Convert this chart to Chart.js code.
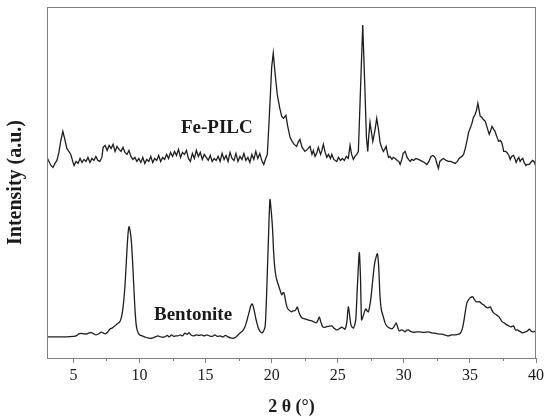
<!DOCTYPE html>
<html>
<head>
<meta charset="utf-8">
<script src="https://cdn.jsdelivr.net/npm/chart.js@4"></script>
<style>
  html, body { margin: 0; padding: 0; background: #fff; }
  #wrap { width: 550px; height: 419px; }
</style>
</head>
<body>
<div id="wrap"><canvas id="xrd"></canvas></div>
<script>
// XRD patterns (2θ in degrees, intensity in arbitrary units)
const fePilcTheta = [
  3.0, 3.15, 3.3, 3.45, 3.6, 3.75, 3.9, 4.05, 4.2, 4.35, 4.5, 4.65, 4.8, 4.95, 5.05, 5.2, 5.35, 5.5, 5.65, 5.8,
  5.95, 6.1, 6.25, 6.4, 6.55, 6.7, 6.85, 7.0, 7.15, 7.25, 7.4, 7.55, 7.7, 7.85, 8.0, 8.15, 8.3, 8.45, 8.6, 8.75,
  8.9, 9.05, 9.2, 9.35, 9.5, 9.65, 9.8, 9.95, 10.1, 10.25, 10.4, 10.55, 10.7, 10.85, 11.0, 11.15, 11.3, 11.45, 11.6, 11.75,
  11.9, 12.05, 12.2, 12.35, 12.5, 12.65, 12.8, 12.95, 13.1, 13.25, 13.4, 13.55, 13.7, 13.85, 14.0, 14.15, 14.3, 14.45, 14.6, 14.75,
  14.9, 15.05, 15.2, 15.35, 15.5, 15.65, 15.8, 15.95, 16.1, 16.25, 16.4, 16.55, 16.7, 16.85, 17.0, 17.15, 17.3, 17.45, 17.6, 17.75,
  17.9, 18.05, 18.2, 18.35, 18.5, 18.65, 18.8, 18.95, 19.1, 19.25, 19.4, 19.55, 19.67, 19.8, 19.9, 20.0, 20.12, 20.25, 20.42, 20.6,
  20.76, 20.9, 21.08, 21.2, 21.39, 21.55, 21.7, 21.89, 22.0, 22.14, 22.3, 22.52, 22.7, 22.9, 23.05, 23.15, 23.28, 23.4, 23.53, 23.7,
  23.8, 23.91, 24.05, 24.17, 24.3, 24.45, 24.55, 24.7, 24.92, 25.05, 25.2, 25.35, 25.5, 25.65, 25.8, 25.93, 26.05, 26.18, 26.3, 26.44,
  26.56, 26.7, 26.89, 27.05, 27.17, 27.27, 27.35, 27.44, 27.55, 27.65, 27.8, 27.95, 28.08, 28.2, 28.32, 28.45, 28.55, 28.66, 28.75, 28.84,
  28.95, 29.1, 29.2, 29.34, 29.5, 29.62, 29.72, 29.85, 29.95, 30.1, 30.25, 30.35, 30.48, 30.6, 30.75, 30.9, 31.1, 31.25, 31.4, 31.55,
  31.74, 31.9, 32.05, 32.2, 32.3, 32.4, 32.5, 32.62, 32.72, 32.88, 33.0, 33.2, 33.38, 33.55, 33.7, 33.89, 34.05, 34.18, 34.27, 34.4,
  34.52, 34.65, 34.8, 34.9, 35.05, 35.15, 35.27, 35.4, 35.5, 35.6, 35.7, 35.78, 35.9, 36.0, 36.16, 36.3, 36.46, 36.55, 36.67, 36.8,
  36.9, 37.0, 37.17, 37.3, 37.4, 37.5, 37.55, 37.7, 37.8, 37.95, 38.05, 38.15, 38.3, 38.4, 38.5, 38.6, 38.7, 38.8, 38.9, 39.0,
  39.1, 39.24, 39.35, 39.5, 39.6, 39.75, 39.85, 40.0
];
const fePilcIntensity = [
  200, 196, 192, 190, 194, 197, 205, 217, 226, 218, 209, 206, 203, 196, 192, 196, 194, 199, 195, 198,
  196, 200, 195, 199, 197, 201, 197, 196, 200, 210, 212, 207, 212, 209, 213, 206, 211, 208, 206, 210,
  205, 203, 207, 201, 198, 200, 196, 199, 195, 200, 194, 198, 196, 201, 195, 199, 197, 202, 196, 200,
  198, 203, 199, 205, 201, 206, 202, 208, 200, 205, 203, 207, 199, 196, 204, 199, 207, 201, 205, 198,
  203, 200, 197, 202, 196, 199, 197, 201, 196, 204, 198, 202, 196, 205, 199, 197, 204, 196, 201, 198,
  204, 197, 200, 195, 203, 198, 206, 199, 204, 197, 193, 199, 203, 235, 262, 290, 304, 285, 263, 250,
  241, 239, 242, 232, 220, 216, 213, 211, 215, 218, 210, 206, 208, 211, 203, 207, 201, 204, 210, 203,
  207, 213, 205, 200, 203, 199, 203, 198, 196, 200, 197, 199, 197, 201, 199, 212, 203, 198, 201, 203,
  206, 260, 332, 270, 220, 206, 222, 235, 225, 216, 226, 239, 228, 215, 210, 206, 208, 211, 205, 200,
  201, 198, 200, 199, 197, 196, 193, 198, 204, 206, 200, 198, 196, 198, 197, 199, 198, 197, 196, 195,
  193, 196, 201, 202, 201, 199, 194, 189, 196, 198, 199, 197, 196, 196, 195, 194, 196, 199, 200, 201,
  203, 209, 218, 225, 230, 234, 240, 243, 247, 254, 247, 241, 240, 238, 236, 230, 223, 226, 231, 228,
  226, 222, 216, 217, 215, 210, 206, 206, 205, 202, 198, 201, 202, 199, 195, 198, 200, 196, 198, 199,
  195, 192, 193, 193, 195, 197, 196, 191
];

const bentoniteTheta = [
  3.0, 3.5, 4.0, 4.5, 5.0, 5.2, 5.4, 5.6, 5.8, 6.0, 6.2, 6.36, 6.55, 6.7, 6.9, 7.12, 7.25, 7.4, 7.6, 7.75,
  7.95, 8.13, 8.3, 8.5, 8.62, 8.76, 8.9, 9.01, 9.12, 9.21, 9.3, 9.39, 9.5, 9.59, 9.68, 9.77, 9.9, 10.02, 10.2, 10.4,
  10.6, 10.9, 11.1, 11.4, 11.6, 11.9, 12.1, 12.25, 12.42, 12.6, 12.75, 12.9, 13.1, 13.25, 13.43, 13.6, 13.75, 13.9, 14.1, 14.3,
  14.5, 14.7, 14.9, 15.1, 15.3, 15.5, 15.7, 15.9, 16.1, 16.3, 16.5, 16.7, 16.9, 17.1, 17.3, 17.45, 17.6, 17.8, 17.97, 18.1,
  18.2, 18.3, 18.42, 18.53, 18.65, 18.79, 18.9, 18.99, 19.1, 19.24, 19.35, 19.5, 19.58, 19.67, 19.77, 19.87, 19.97, 20.07, 20.15, 20.25,
  20.35, 20.5, 20.65, 20.76, 20.85, 20.93, 21.05, 21.18, 21.3, 21.5, 21.6, 21.7, 21.82, 21.94, 22.03, 22.14, 22.3, 22.52, 22.75, 23.03,
  23.2, 23.36, 23.48, 23.6, 23.72, 23.86, 24.0, 24.1, 24.3, 24.55, 24.7, 24.9, 25.05, 25.2, 25.3, 25.45, 25.55, 25.68, 25.8, 25.92,
  26.0, 26.1, 26.2, 26.36, 26.48, 26.63, 26.72, 26.8, 26.9, 27.02, 27.12, 27.22, 27.32, 27.42, 27.52, 27.65, 27.8, 28.0, 28.1, 28.2,
  28.3, 28.45, 28.58, 28.7, 28.9, 29.1, 29.25, 29.42, 29.55, 29.65, 29.85, 30.0, 30.1, 30.2, 30.35, 30.5, 30.7, 31.0, 31.2, 31.5,
  31.85, 32.1, 32.37, 32.6, 32.88, 33.1, 33.38, 33.6, 33.9, 34.1, 34.27, 34.4, 34.52, 34.65, 34.77, 34.9, 35.02, 35.22, 35.35, 35.47,
  35.6, 35.75, 35.9, 36.03, 36.2, 36.35, 36.55, 36.65, 36.79, 37.0, 37.2, 37.3, 37.45, 37.6, 37.8, 37.95, 38.1, 38.3, 38.45, 38.6,
  38.7, 38.85, 38.95, 39.1, 39.2, 39.35, 39.5, 39.62, 39.75, 39.9, 40.0
];
const bentoniteIntensity = [
  21, 21, 21, 21, 21.5, 22, 24, 24.5, 24, 24, 25, 25.3, 24, 23, 24, 25.7, 25, 24, 26, 28.7,
  30, 32, 34, 36, 40, 51, 72, 98, 122, 131, 126, 115, 90, 65, 44, 31, 25, 23, 22, 21,
  20, 19.7, 20.5, 22, 21, 21, 22.5, 21, 23, 21.5, 22, 22, 23, 22, 24.7, 23.5, 25.3, 23, 22, 23,
  22.5, 23, 22, 23, 22, 21.5, 23, 21.5, 22, 21, 22.5, 21, 20, 19.7, 21, 23, 25, 27, 31, 36,
  41, 46, 52, 54, 49, 40, 34, 30, 27, 25, 26, 31, 50, 85, 125, 158, 146, 128, 105, 88,
  80, 73, 67, 63, 65, 65, 57, 50, 48, 46, 47, 47, 48, 51, 47, 43, 40, 39, 38, 37,
  36, 35, 37, 41, 36, 31, 30.5, 31, 31.5, 32, 30, 28, 28.7, 30, 30.7, 29.5, 28.7, 35, 51, 40,
  33, 30.5, 30, 38, 70, 105, 80, 38, 41, 46, 49, 47, 46, 52, 61, 78, 95, 104, 90, 61,
  48, 41, 35, 32, 30, 29, 31, 35, 30, 27, 28, 27, 26, 27.5, 28, 26.5, 25.7, 26, 26, 25.5,
  26, 25, 24.7, 24, 23.7, 23, 22, 23, 23, 23.5, 24.7, 28, 35, 46, 55, 58, 60, 61, 58, 56,
  56, 56, 54, 53, 51, 50, 51, 48, 45, 43, 41, 39, 36, 35, 33, 32, 31, 32, 28, 28,
  27, 26, 25, 25.5, 26, 27, 28.7, 27, 26, 26.5, 27
];

// series names and where they are written on the plot
const seriesNames = ['Fe-PILC', 'Bentonite'];
const nameTheta = [15.85, 14.05];
const nameIntensity = [229, 43];

// axis ticks
const xMajorTicks = [5, 10, 15, 20, 25, 30, 35, 40];
const xMinorTicks = [7.5, 12.5, 17.5, 22.5, 27.5, 32.5, 37.5];

const SERIF = "'Liberation Serif', 'Times New Roman', serif";
const INK = '#1a1a1a';
const FRAME = '#808080';

const toPoints = (xs, ys) => xs.map((x, i) => ({ x, y: ys[i] }));

// frame box, minor ticks and the series names
const decorPlugin = {
    id: 'decor',
    afterDraw(chart) {
        const { ctx, chartArea: a, scales } = chart;
        ctx.save();
        ctx.strokeStyle = FRAME;
        ctx.lineWidth = 1;
        ctx.strokeRect(Math.round(a.left) + 0.5, Math.round(a.top) + 0.5,
            Math.round(a.right - a.left) - 1, Math.round(a.bottom - a.top));
        ctx.beginPath();
        xMinorTicks.forEach(v => {
            const px = Math.round(scales.x.getPixelForValue(v)) + 0.5;
            ctx.moveTo(px, a.bottom);
            ctx.lineTo(px, a.bottom + 3);
        });
        ctx.stroke();

        ctx.fillStyle = INK;
        ctx.font = `bold 19px ${SERIF}`;
        ctx.textAlign = 'center';
        ctx.textBaseline = 'middle';
        seriesNames.forEach((name, i) => {
            ctx.fillText(name, scales.x.getPixelForValue(nameTheta[i]), scales.y.getPixelForValue(nameIntensity[i]));
        });
        ctx.restore();
    }
};

new Chart(document.getElementById('xrd'), {
    type: 'scatter',
    data: {
        datasets: [
            {
                label: seriesNames[0],
                data: toPoints(fePilcTheta, fePilcIntensity),
                showLine: true,
                borderColor: '#1e1e1e',
                borderWidth: 1.3,
                pointRadius: 0,
                tension: 0,
            },
            {
                label: seriesNames[1],
                data: toPoints(bentoniteTheta, bentoniteIntensity),
                showLine: true,
                borderColor: '#1e1e1e',
                borderWidth: 1.3,
                pointRadius: 0,
                tension: 0.25,
            }
        ]
    },
    options: {
        responsive: true,
        maintainAspectRatio: false,
        animation: false,
        layout: { padding: { top: 7, right: 14, left: 0, bottom: 0 } },
        plugins: {
            legend: { display: false },
            tooltip: { enabled: false }
        },
        scales: {
            x: {
                type: 'linear',
                min: 3,
                max: 40,
                afterBuildTicks: axis => { axis.ticks = xMajorTicks.map(v => ({ value: v })); },
                afterFit: axis => { axis.height = 61; },
                grid: { drawOnChartArea: false, drawTicks: true, tickLength: 5, color: FRAME },
                border: { display: false },
                ticks: {
                    font: { family: SERIF, size: 16 },
                    color: INK,
                    padding: 3,
                    maxRotation: 0,
                    autoSkip: false
                },
                title: {
                    display: true,
                    text: '2 θ (°)',
                    font: { family: SERIF, size: 18, weight: 'bold' },
                    color: INK,
                    padding: { top: 0, bottom: 1 }
                }
            },
            y: {
                min: 0,
                max: 350,
                afterFit: axis => { axis.width = 47; },
                grid: { display: false, drawTicks: false },
                border: { display: false },
                ticks: { display: false },
                title: {
                    display: true,
                    text: 'Intensity (a.u.)',
                    font: { family: SERIF, size: 20, weight: 'bold' },
                    color: INK,
                    padding: { top: 4, bottom: 0 }
                }
            }
        }
    },
    plugins: [decorPlugin]
});
</script>
</body>
</html>
